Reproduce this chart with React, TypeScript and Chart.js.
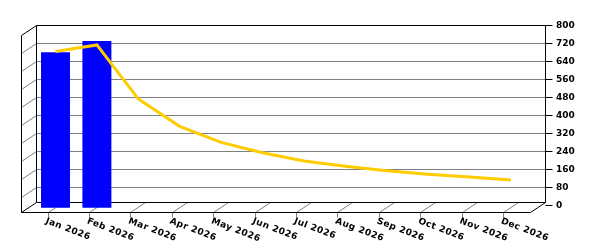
import React, { useEffect, useRef } from 'react';
import { Chart, registerables } from 'chart.js';

Chart.register(...registerables);

const months = ['Jan 2026', 'Feb 2026', 'Mar 2026', 'Apr 2026', 'May 2026', 'Jun 2026', 'Jul 2026', 'Aug 2026', 'Sep 2026', 'Oct 2026', 'Nov 2026', 'Dec 2026'];
const barValues: (number | null)[] = [703, 752, null, null, null, null, null, null, null, null, null, null];
const lineValues = [706, 735, 495, 373, 302, 256, 219, 196, 176, 160, 148, 135];
const yMin = 0;
const yMax = 800;
const yStep = 80;

const DEPTH_X = 15;
const DEPTH_Y = 10;
const WALL_INSET = 6;
const FONT = 'bold 9px "DejaVu Sans"';

const crisp = (v: number) => Math.floor(v) + 0.5;

const threeD = {
  id: 'threeD',
  beforeDatasetsDraw(chart: any) {
    const { ctx, chartArea, scales } = chart;
    const y = scales.y;
    const x = scales.x;
    const bl = chartArea.left - WALL_INSET; // back-left
    const br = chartArea.right + WALL_INSET; // back-right
    const top = crisp(y.getPixelForValue(yMax));
    const floorBack = crisp(y.getPixelForValue(yMin) - 2.6);
    const fl = bl - DEPTH_X;
    const fr = br - DEPTH_X;
    const floorFront = floorBack + DEPTH_Y;
    const blc = crisp(bl);
    const brc = crisp(br);
    const flc = crisp(fl);
    const frc = crisp(fr);

    ctx.save();
    ctx.lineWidth = 1;
    // gridlines on back wall and left wall
    ctx.strokeStyle = '#808080';
    for (let v = yMin + yStep; v < yMax; v += yStep) {
      const py = crisp(y.getPixelForValue(v));
      ctx.beginPath();
      ctx.moveTo(blc, py);
      ctx.lineTo(brc, py);
      ctx.moveTo(blc, py);
      ctx.lineTo(flc, py + DEPTH_Y);
      ctx.stroke();
    }
    // floor category ticks
    for (let i = 0; i < months.length; i++) {
      const px = x.getPixelForValue(i);
      const fx = crisp(px - DEPTH_X);
      ctx.beginPath();
      ctx.moveTo(fx, floorFront);
      ctx.lineTo(fx + DEPTH_X, floorBack);
      ctx.moveTo(fx, floorFront);
      ctx.lineTo(fx, floorFront + 5);
      ctx.stroke();
    }
    // right axis tick marks
    ctx.strokeStyle = '#000';
    for (let v = yMin; v <= yMax; v += yStep) {
      const py = crisp(y.getPixelForValue(v));
      ctx.beginPath();
      ctx.moveTo(brc, py);
      ctx.lineTo(brc + 7, py);
      ctx.stroke();
    }
    // outlines
    ctx.beginPath();
    // back wall
    ctx.moveTo(blc, top);
    ctx.lineTo(brc, top);
    ctx.lineTo(brc, floorBack);
    ctx.lineTo(blc, floorBack);
    ctx.lineTo(blc, top);
    // left wall
    ctx.moveTo(blc, top);
    ctx.lineTo(flc, top + DEPTH_Y);
    ctx.lineTo(flc, floorFront);
    ctx.lineTo(blc, floorBack);
    // floor
    ctx.moveTo(flc, floorFront);
    ctx.lineTo(frc, floorFront);
    ctx.lineTo(brc, floorBack);
    ctx.stroke();

    // category labels (rotated clockwise)
    ctx.fillStyle = '#000';
    ctx.font = FONT;
    ctx.textAlign = 'left';
    ctx.textBaseline = 'top';
    try {
      (ctx as any).letterSpacing = '0.4px';
    } catch (e) {
      /* ignore */
    }
    const angle = (21 * Math.PI) / 180;
    for (let i = 0; i < months.length; i++) {
      const px = x.getPixelForValue(i) - DEPTH_X;
      ctx.save();
      ctx.translate(px - 0.5, floorFront + 4);
      ctx.rotate(angle);
      ctx.fillText(months[i], 0, 0);
      ctx.restore();
    }
    try {
      (ctx as any).letterSpacing = '0px';
    } catch (e) {
      /* ignore */
    }
    ctx.restore();

    // shift data marks to the middle depth plane
    ctx.save();
    ctx.translate(-DEPTH_X / 2, DEPTH_Y / 2);
  },
  afterDatasetsDraw(chart: any) {
    chart.ctx.restore();
  },
};

export default function App() {
  const ref = useRef<HTMLCanvasElement | null>(null);
  useEffect(() => {
    if (!ref.current) return;
    const chart = new Chart(ref.current, {
      data: {
        labels: months,
        datasets: [
          {
            type: 'line',
            label: 'Trend',
            data: lineValues,
            borderColor: '#FFCC00',
            backgroundColor: '#FFCC00',
            borderWidth: 3,
            pointRadius: 0,
            tension: 0,
            order: 1,
            clip: { left: 20, right: 20, top: 20, bottom: 20 },
          } as any,
          {
            type: 'bar',
            label: 'Actual',
            data: barValues,
            backgroundColor: '#0000FF',
            borderWidth: 0,
            categoryPercentage: 1,
            barPercentage: 0.7,
            order: 2,
            clip: { left: 20, right: 20, top: 20, bottom: -2.6 },
          } as any,
        ],
      },
      options: {
        responsive: false,
        animation: false,
        events: [],
        layout: { padding: { left: 42.3, top: 25.3, bottom: 44.7, right: 0 } },
        plugins: { legend: { display: false }, tooltip: { enabled: false } },
        scales: {
          x: { type: 'category', display: false, offset: true },
          y: {
            position: 'right',
            min: yMin,
            max: yMax,
            grid: { display: false, drawTicks: false, tickLength: 0 },
            border: { display: false },
            ticks: {
              stepSize: yStep,
              padding: 17,
              color: '#000',
              font: { family: 'DejaVu Sans', size: 9, weight: 'bold' },
            },
            afterFit: (axis: any) => {
              axis.width = 60.9;
            },
          },
        },
      },
      plugins: [threeD],
    } as any);
    return () => chart.destroy();
  }, []);
  return (
    <div style={{ position: 'fixed', left: 0, top: 0, width: 600, height: 250, background: '#fff' }}>
      <canvas ref={ref} width={600} height={250} />
    </div>
  );
}
